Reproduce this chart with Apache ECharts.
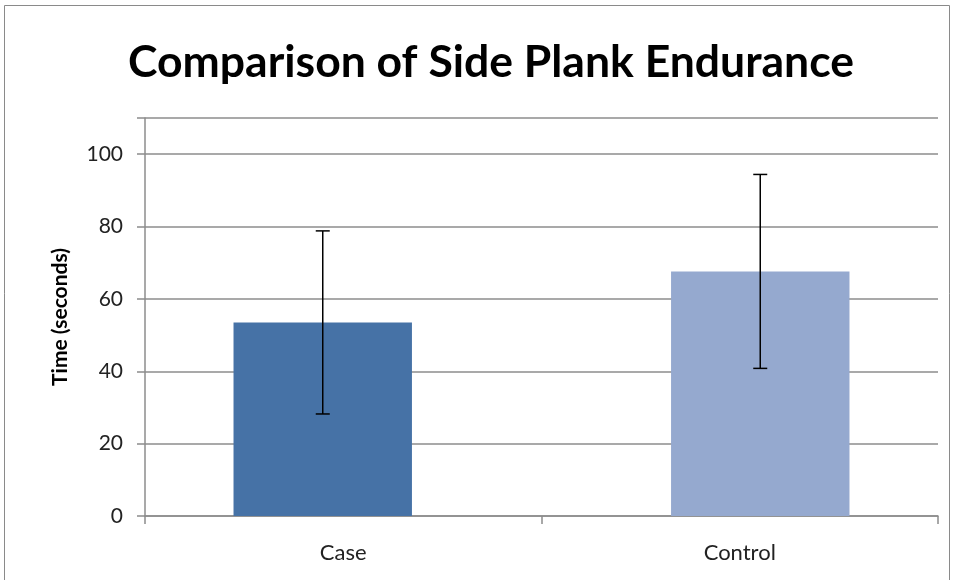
<!DOCTYPE html>
<html><head><meta charset="utf-8">
<script src="https://cdn.jsdelivr.net/npm/echarts@6/dist/echarts.min.js"></script>
<style>html,body{margin:0;padding:0;background:#fff}#c{width:955px;height:580px}</style>
</head><body><div id="c"></div>
<script>
const categories = ['Case', 'Control'];
const means = [53.5, 67.6];
const errors = [25.3, 26.8];
const barColors = ['#4672A6', '#95A9CF'];
const yTicks = [0, 20, 40, 60, 80, 100];

// bar layout (fraction of category band)
const BAR_W = 0.45;
const SHIFT = 0.0517; // each bar sits slightly off its category centre
const barGapPct = ((2 * SHIFT - BAR_W) / BAR_W * 100).toFixed(1) + '%';

const chart = echarts.init(document.getElementById('c'));
chart.setOption({
  animation: false,
  backgroundColor: '#fff',
  graphic: [{type:'rect', shape:{x:4.5,y:5.5,width:945,height:580}, style:{fill:'none', stroke:'#8a8a8a', lineWidth:1}}],
  title: {
    text: 'Comparison of Side Plank Endurance',
    left: 486, top: 35, textAlign: 'center',
    textStyle: {fontFamily: 'Lato', fontWeight: 'bold', fontSize: 44.5, color: '#000'}
  },
  grid: {left: 145, right: 17, top: 118, bottom: 64},
  xAxis: {
    type: 'category', data: categories,
    axisLine: {lineStyle: {color: '#8c8c8c', width: 1.5}},
    axisTick: {show: true, length: 8, alignWithLabel: false, lineStyle: {color: '#8c8c8c', width: 1.5}},
    axisLabel: {color: '#222', fontSize: 22, fontFamily: 'Lato', margin: 26}
  },
  yAxis: {
    type: 'value', min: 0, max: 110, interval: 20,
    name: 'Time (seconds)', nameLocation: 'middle', nameGap: 74, nameRotate: 90,
    nameTextStyle: {fontFamily: 'Lato', fontWeight: 'bold', fontSize: 21, color: '#000'},
    axisLine: {show: true, lineStyle: {color: '#8c8c8c', width: 1.5}},
    axisTick: {show: true, length: 8, lineStyle: {color: '#8c8c8c', width: 1.5}},
    splitLine: {lineStyle: {color: '#8c8c8c', width: 1.5}},
    axisLabel: {color: '#222', fontSize: 21, fontFamily: 'Lato', margin: 22,
      formatter: v => yTicks.includes(v) ? String(v) : ''}
  },
  series: [
    {
      type: 'bar', barWidth: (BAR_W * 100) + '%', barGap: barGapPct,
      data: means.map((v, i) => i === 0 ? {value: v, itemStyle: {color: barColors[i]}} : null),
      z: 2
    },
    {
      type: 'bar', barWidth: (BAR_W * 100) + '%', barGap: barGapPct,
      data: means.map((v, i) => i === 1 ? {value: v, itemStyle: {color: barColors[i]}} : null),
      z: 2
    },
    {
      type: 'custom', z: 3,
      data: means.map((m, i) => [i, m - errors[i], m + errors[i]]),
      renderItem: function (params, api) {
        const idx = api.value(0);
        const band = api.size([1, 0])[0];
        const dx = (idx === 0 ? -1 : 1) * SHIFT * band;
        const lo = api.coord([idx, api.value(1)]);
        const hi = api.coord([idx, api.value(2)]);
        const x = lo[0] + dx;
        const w = 7;
        const st = {stroke: '#000', lineWidth: 1.5};
        return {type: 'group', children: [
          {type: 'line', shape: {x1: x, y1: lo[1], x2: x, y2: hi[1]}, style: st},
          {type: 'line', shape: {x1: x-w, y1: lo[1], x2: x+w, y2: lo[1]}, style: st},
          {type: 'line', shape: {x1: x-w, y1: hi[1], x2: x+w, y2: hi[1]}, style: st}
        ]};
      }
    }
  ]
});
</script></body></html>
